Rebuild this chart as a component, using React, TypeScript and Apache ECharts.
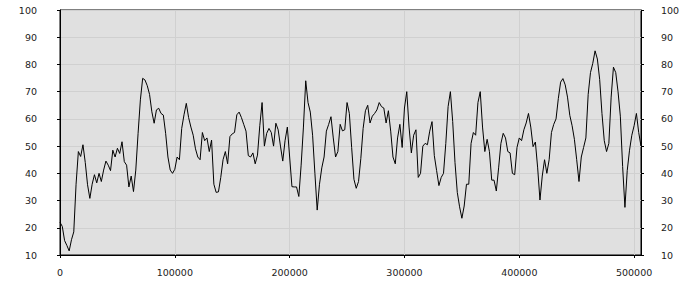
import React, { useEffect, useRef } from "react";
import * as echarts from "echarts";

// x step between samples (data units)
const X_STEP = 2000;
const X_MAX = 506000;

const yTicks = [10, 20, 30, 40, 50, 60, 70, 80, 90, 100];
const xTicks = [0, 100000, 200000, 300000, 400000, 500000];

const values1 = [22, 20.5, 15.3, 13.5, 11.5, 15.6, 18.5, 36, 48, 46.2, 50.5, 44, 35.8, 30.8, 36, 39.5, 36.5, 40, 37, 41.2, 44.5, 43, 41, 48.5, 46, 49.2, 47.3, 51.6, 44.3, 43, 35, 39, 33.3, 41.2, 54.7, 67, 74.9, 74.3, 72.2, 69, 62.6, 58.4, 63.3, 63.9, 62, 61.4];
const values2 = [54.7, 46, 41.2, 40, 41.5, 46, 45, 56.5, 61.5, 65.7, 60.5, 57, 54, 49, 46, 45, 55, 52, 53, 48, 52.2, 36, 33, 33.2, 38.5, 45, 48, 43.5, 53.5, 54.5, 55, 61.5, 62.5, 60.5, 58, 55.5, 46.5, 46, 47.5, 43.5, 46.7, 57.5, 66, 50, 54.7, 56.5];
const values3 = [55, 50, 58.4, 56, 50, 44.5, 52, 57, 46, 35.1, 35, 35, 31.5, 43, 57, 74, 66, 62.5, 54, 40, 26.5, 36, 42, 46, 55.5, 58, 60.8, 53, 46, 48, 58, 55.6, 56, 66, 62, 49.5, 37.8, 34.5, 37, 45.5, 56.5, 63, 65, 58.5, 61, 62];
const values4 = [63.3, 66, 64.5, 64, 58.5, 63, 55.5, 46, 43.5, 53, 58, 49.5, 64, 70, 57, 47.5, 54, 56, 38.5, 40, 50, 51, 50.5, 55.5, 59, 46.5, 41, 35.5, 38.5, 40, 51, 64.5, 70, 59, 44, 33, 27.7, 23.5, 28, 36, 36, 51, 55, 54, 66, 70];
const values5 = [57, 48, 52.5, 48, 37.5, 37.5, 33.5, 42, 51, 54.7, 53, 48, 47.5, 40, 39.5, 49.5, 53, 52, 56, 58.5, 62, 57, 49.8, 51.5, 42, 30.2, 39, 45, 40, 45, 55, 58, 60, 67.5, 73.5, 74.8, 72.5, 68, 61.3, 57.5, 52.5, 45, 37, 46, 49.5];
const values6 = [53, 69, 77, 80.4, 85, 82, 74.5, 62, 52, 48, 51, 68, 79, 77, 70, 61, 42.5, 27.5, 41, 48.5, 54, 57.5, 62, 55, 50];

const seriesValues = [...values1, ...values2, ...values3, ...values4, ...values5, ...values6];

export default function App() {
  const ref = useRef<HTMLDivElement>(null);
  useEffect(() => {
    if (!ref.current) return;
    const chart = echarts.init(ref.current, undefined, { renderer: "svg" });
    const data = seriesValues.map((v, i) => [i * X_STEP, v]);
    const labelStyle = {
      fontFamily: "DejaVu Sans",
      fontSize: 9.5,
      color: "#222",
    };
    chart.setOption({
      animation: false,
      backgroundColor: "#ffffff",
      grid: {
        left: 60,
        top: 10,
        right: 59,
        bottom: 45,
        show: true,
        backgroundColor: "#e0e0e0",
        borderColor: "#000",
        borderWidth: 1,
      },
      xAxis: {
        type: "value",
        min: 0,
        max: X_MAX,
        interval: 100000,
        axisLine: { show: true, lineStyle: { color: "#000", width: 1 } },
        axisTick: { show: true, length: 3, lineStyle: { color: "#000" } },
        axisLabel: {
          ...labelStyle,
          margin: 12,
          showMaxLabel: false,
          formatter: (v: number) => (xTicks.includes(v) ? String(v) : ""),
        },
        splitLine: { show: true, lineStyle: { color: "#d0d0d0", width: 1 } },
      },
      yAxis: [
        {
          type: "value",
          position: "left",
          min: 10,
          max: 100,
          interval: 10,
          axisLine: { show: true, lineStyle: { color: "#000" } },
          axisTick: { show: true, length: 3, lineStyle: { color: "#000" } },
          axisLabel: { ...labelStyle, margin: 23, formatter: (v: number) => (yTicks.includes(v) ? String(v) : "") },
          splitLine: { show: true, lineStyle: { color: "#d0d0d0", width: 1 } },
        },
        {
          type: "value",
          position: "right",
          min: 10,
          max: 100,
          interval: 10,
          axisLine: { show: true, lineStyle: { color: "#000" } },
          axisTick: { show: true, length: 3, lineStyle: { color: "#000" } },
          axisLabel: { ...labelStyle, margin: 20, formatter: (v: number) => (yTicks.includes(v) ? String(v) : "") },
          splitLine: { show: false },
        },
      ],
      series: [
        {
          type: "line",
          data,
          yAxisIndex: 0,
          showSymbol: false,
          symbol: "none",
          lineStyle: { color: "#000", width: 1 },
          emphasis: { disabled: true },
        },
      ],
    });
    return () => chart.dispose();
  }, []);
  return <div ref={ref} style={{ width: 700, height: 300, position: "absolute", left: 0, top: 0 }} />;
}
